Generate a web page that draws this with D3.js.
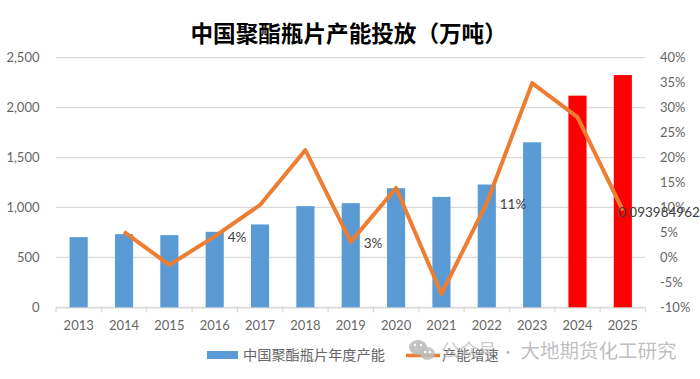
<!DOCTYPE html>
<html>
<head>
<meta charset="utf-8">
<script src="https://cdn.jsdelivr.net/npm/d3@7"></script>
<style>
  html, body { margin: 0; padding: 0; background: #fff; }
  svg { display: block; }
  text { font-family: Lato, "Noto Sans CJK SC", sans-serif; }
  .cjk { font-family: "Noto Sans CJK SC", sans-serif; }
</style>
</head>
<body>
<div id="chart"></div>
<script>
// data
const years = ["2013", "2014", "2015", "2016", "2017", "2018", "2019", "2020", "2021", "2022", "2023", "2024", "2025"];
const capacity = [703, 733, 723, 756, 830, 1013, 1043, 1193, 1106, 1230, 1653, 2120, 2326];
const growth = [null, 5.1, -1.5, 4.2, 10.5, 21.5, 3.1, 13.9, -7.3, 10.9, 34.9, 28.1, 9.4];
const pointLabels = [null, null, null, "4%", null, null, "3%", null, null, "11%", null, null, "0.093984962"];
const leftTicks = [0, 500, 1000, 1500, 2000, 2500];
const rightTicks = [-10, -5, 0, 5, 10, 15, 20, 25, 30, 35, 40];
const plannedYears = ["2024", "2025"];

const width = 700, height = 379;
const margin = { top: 57.7, right: 54.5, bottom: 71.7, left: 56 };
const axisColor = "#666666", gridColor = "#D9D9D9";

const svg = d3.select("#chart").append("svg")
    .attr("width", width)
    .attr("height", height);

const x = d3.scaleBand()
    .domain(years)
    .range([margin.left, width - margin.right])
    .paddingInner(0.6)
    .paddingOuter(0.3);

const yLeft = d3.scaleLinear()
    .domain([0, 2500])
    .range([height - margin.bottom, margin.top]);

const yRight = d3.scaleLinear()
    .domain([-10, 40])
    .range([height - margin.bottom, margin.top]);

// title
svg.append("text")
    .attr("class", "cjk")
    .attr("x", 190.5)
    .attr("y", 42)
    .attr("font-size", 22.6)
    .attr("font-weight", 700)
    .attr("fill", "#000")
    .text("中国聚酯瓶片产能投放（万吨）");

// gridlines
svg.append("g")
    .selectAll("line")
    .data(leftTicks)
    .join("line")
    .attr("x1", margin.left)
    .attr("x2", width - margin.right)
    .attr("y1", d => yLeft(d))
    .attr("y2", d => yLeft(d))
    .attr("stroke", gridColor)
    .attr("stroke-width", 1.2);

// left axis
const leftAxis = svg.append("g")
    .attr("transform", `translate(${margin.left - 16.5},0)`)
    .call(d3.axisLeft(yLeft).tickValues(leftTicks).tickSize(0).tickPadding(0).tickFormat(d3.format(",")));
leftAxis.select(".domain").remove();

// right axis
const rightAxis = svg.append("g")
    .attr("transform", `translate(${width - margin.right + 14.5},0)`)
    .call(d3.axisRight(yRight).tickValues(rightTicks).tickSize(0).tickPadding(0).tickFormat(d => d + "%"));
rightAxis.select(".domain").remove();

// bottom axis, Excel style ticks on the category edges
const bottomAxis = svg.append("g")
    .attr("transform", `translate(0,${height - margin.bottom})`)
    .call(d3.axisBottom(x).tickSize(0).tickPadding(13));
bottomAxis.select(".domain")
    .attr("stroke", gridColor)
    .attr("stroke-width", 1.2);

const step = x.step();
bottomAxis.selectAll(".edge")
    .data(d3.range(years.length + 1))
    .join("line")
    .attr("class", "edge")
    .attr("x1", i => margin.left + i * step)
    .attr("x2", i => margin.left + i * step)
    .attr("y1", 0)
    .attr("y2", 5)
    .attr("stroke", gridColor)
    .attr("stroke-width", 1.2);

svg.selectAll(".tick text")
    .attr("font-family", "Lato, sans-serif")
    .attr("font-size", 13)
    .attr("fill", axisColor);

// bars
svg.append("g")
    .selectAll("rect")
    .data(years)
    .join("rect")
    .attr("x", d => x(d))
    .attr("width", x.bandwidth())
    .attr("y", (d, i) => yLeft(capacity[i]))
    .attr("height", (d, i) => yLeft(0) - yLeft(capacity[i]))
    .attr("fill", d => plannedYears.includes(d) ? "#FF0000" : "#5B9BD5");

// growth line
const line = d3.line()
    .defined(d => d.value !== null)
    .x(d => x(d.year) + x.bandwidth() / 2)
    .y(d => yRight(d.value));

svg.append("path")
    .datum(years.map((year, i) => ({ year, value: growth[i] })))
    .attr("fill", "none")
    .attr("stroke", "#ED7D31")
    .attr("stroke-width", 4)
    .attr("stroke-linejoin", "round")
    .attr("d", line);

// point labels, the long 2025 one runs into the right axis like in the original
svg.append("g")
    .selectAll("text")
    .data(years.filter((d, i) => pointLabels[i]))
    .join("text")
    .attr("x", d => x(d) + x.bandwidth() / 2 + (d === "2025" ? -4.5 : 13))
    .attr("y", d => yRight(growth[years.indexOf(d)]) + (d === "2025" ? 6.5 : 6))
    .attr("font-size", 13.5)
    .attr("fill", "#404040")
    .text(d => pointLabels[years.indexOf(d)]);

// legend
const legend = svg.append("g").attr("class", "legend");
legend.append("rect")
    .attr("x", 207)
    .attr("y", 351)
    .attr("width", 31)
    .attr("height", 8)
    .attr("fill", "#5B9BD5");
legend.append("text")
    .attr("class", "cjk")
    .attr("x", 243)
    .attr("y", 360)
    .attr("font-size", 14.2)
    .attr("fill", axisColor)
    .text("中国聚酯瓶片年度产能");
legend.append("line")
    .attr("x1", 406)
    .attr("x2", 440)
    .attr("y1", 355.5)
    .attr("y2", 355.5)
    .attr("stroke", "#ED7D31")
    .attr("stroke-width", 3.6);
legend.append("text")
    .attr("class", "cjk")
    .attr("x", 442)
    .attr("y", 360)
    .attr("font-size", 14.2)
    .attr("fill", axisColor)
    .text("产能增速");

// watermark over the legend
const mark = svg.append("g").attr("class", "watermark");
mark.append("ellipse")
    .attr("cx", 418).attr("cy", 347.5).attr("rx", 9).attr("ry", 7.5)
    .attr("fill", "#b4b4b4").attr("opacity", 0.8);
mark.append("ellipse")
    .attr("cx", 427.5).attr("cy", 353.5).attr("rx", 7.5).attr("ry", 6.5)
    .attr("fill", "#bdbdbd").attr("opacity", 0.85);
mark.append("g")
    .selectAll("circle")
    .data([[415, 345], [421, 345], [425, 352], [430, 352]])
    .join("circle")
    .attr("cx", d => d[0])
    .attr("cy", d => d[1])
    .attr("r", 1.2)
    .attr("fill", "#fff");
mark.append("text")
    .attr("class", "cjk")
    .attr("x", 441)
    .attr("y", 357)
    .attr("font-size", 18.5)
    .attr("fill", "#b4b4b4")
    .attr("fill-opacity", 0.7)
    .text("公众号");
mark.append("text")
    .attr("class", "cjk")
    .attr("x", 508)
    .attr("y", 357)
    .attr("text-anchor", "middle")
    .attr("font-size", 14)
    .attr("fill", "#b4b4b4")
    .text("·");
mark.append("text")
    .attr("class", "cjk")
    .attr("x", 520.5)
    .attr("y", 358)
    .attr("font-size", 19.5)
    .attr("fill", "#b4b4b4")
    .attr("fill-opacity", 0.85)
    .text("大地期货化工研究");
</script>
</body>
</html>
